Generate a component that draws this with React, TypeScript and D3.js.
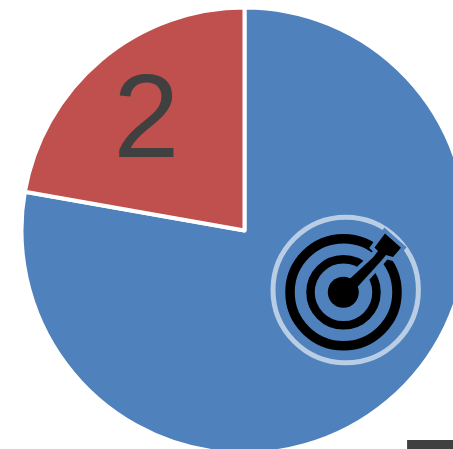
import React, { useEffect, useRef } from 'react';
import * as d3 from 'd3';

const categories = ['Achieved', 'Remaining'];
const values = [7, 2];
const colors = ['#4f81bd', '#c0504d'];

const WIDTH = 453;
const HEIGHT = 449;
// the white stroke eats 2px of the rim
const RADIUS = 223;
const CENTER = { x: 244.5, y: 230.5 };
// first label sits way outside the pie, it gets cut by the frame
const LABEL_RADIUS = [312, 149];
const LABEL_SHIFT = [[-11, 11.5], [-2.5, -0.5]];

export default function App() {
  const svgRef = useRef<SVGSVGElement>(null);

  useEffect(() => {
    if (!svgRef.current) return;

    const svg = d3.select(svgRef.current);
    svg.selectAll('*').remove();

    const g = svg.append('g').attr('transform', `translate(${CENTER.x},${CENTER.y})`);

    const pie = d3.pie<number>().sort(null);
    const arcs = pie(values);
    const arc = d3.arc<d3.PieArcDatum<number>>().innerRadius(0).outerRadius(RADIUS);

    g.selectAll('.slice')
      .data(arcs)
      .enter()
      .append('path')
      .attr('class', 'slice')
      .attr('d', arc)
      .attr('fill', (_d, i) => colors[i])
      .attr('data-name', (_d, i) => categories[i])
      .attr('stroke', '#fff')
      .attr('stroke-width', 4)
      .attr('stroke-linejoin', 'round');

    g.selectAll('.label')
      .data(arcs)
      .enter()
      .append('text')
      .attr('class', 'label')
      .attr('transform', (d, i) => {
        const [x, y] = d3.arc<d3.PieArcDatum<number>>()
          .innerRadius(LABEL_RADIUS[i])
          .outerRadius(LABEL_RADIUS[i])
          .centroid(d);
        return `translate(${x + LABEL_SHIFT[i][0]},${y + 41 + LABEL_SHIFT[i][1]})`;
      })
      .attr('text-anchor', 'middle')
      .attr('font-family', 'Liberation Sans, Arial, sans-serif')
      .attr('font-size', 119)
      .attr('fill', '#404040')
      .text(d => d.value);

    // target icon
    const icon = svg.append('g');
    icon.append('circle')
      .attr('cx', 345.7).attr('cy', 290).attr('r', 72.7)
      .attr('fill', 'none').attr('stroke', '#b9cde5').attr('stroke-width', 5);

    const rings = [
      { r: 53.5, w: 9.5 },
      { r: 33, w: 8.5 },
    ];
    rings.forEach(d => {
      icon.append('circle')
        .attr('cx', 343.5).attr('cy', 292.3).attr('r', d.r)
        .attr('fill', 'none').attr('stroke', '#000').attr('stroke-width', d.w);
    });

    // arrow outline, blue halo cuts the rings around it
    const arrow = 'M385,233.5L401,247.7L393,257L386,255L381.5,260.5L357,287.5L348.5,280L373,257.5L378,251L374.5,247.5Z';
    icon.append('path').attr('d', arrow)
      .attr('fill', colors[0]).attr('stroke', colors[0]).attr('stroke-width', 8);
    icon.append('path').attr('d', arrow).attr('fill', '#000');
    icon.append('circle')
      .attr('cx', 343.3).attr('cy', 292.3).attr('r', 15.5).attr('fill', '#000');
  }, []);

  return (
    <svg
      ref={svgRef}
      width={WIDTH}
      height={HEIGHT}
      style={{ position: 'fixed', left: 0, top: 0, display: 'block', background: '#fff' }}
    />
  );
}
